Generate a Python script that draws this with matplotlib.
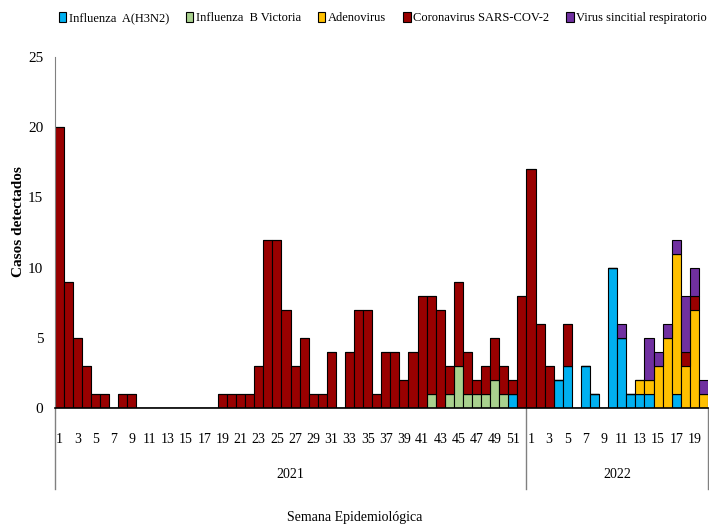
import matplotlib
matplotlib.use("Agg")
import matplotlib.pyplot as plt
import numpy as np

plt.rcParams['font.family'] = ['Liberation Serif', 'DejaVu Serif']

weeks_2021 = list(range(1, 53))
weeks_2022 = list(range(1, 21))
years = ["2021", "2022"]

series_names = ["Influenza  A(H3N2)", "Influenza  B Victoria", "Adenovirus",
                "Coronavirus SARS-COV-2", "Virus sincitial respiratorio"]
colors = ["#00B0F0", "#A9D18E", "#FFC000", "#990000", "#7030A0"]

# 2021 weeks 1-52 then 2022 weeks 1-20
flu_a = [0]*50 + [1, 0] + \
        [0, 0, 0, 2, 3, 0, 3, 1, 0, 10, 5, 1, 1, 1, 0, 0, 1, 0, 0, 0]
flu_b = [0]*41 + [1, 0, 1, 3, 1, 1, 1, 2, 1, 0, 0] + [0]*20
adeno = [0]*52 + \
        [0, 0, 0, 0, 0, 0, 0, 0, 0, 0, 0, 0, 1, 1, 3, 5, 10, 3, 7, 1]
covid = [20, 9, 5, 3, 1, 1, 0, 1, 1, 0, 0, 0, 0, 0, 0, 0, 0, 0, 1, 1,
         1, 1, 3, 12, 12, 7, 3, 5, 1, 1, 4, 0, 4, 7, 7, 1, 4, 4, 2, 4,
         8, 7, 7, 2, 6, 3, 1, 2, 3, 2, 1, 8] + \
        [17, 6, 3, 0, 3, 0, 0, 0, 0, 0, 0, 0, 0, 0, 0, 0, 0, 1, 1, 0]
rsv = [0]*52 + \
      [0, 0, 0, 0, 0, 0, 0, 0, 0, 0, 1, 0, 0, 3, 1, 1, 1, 4, 2, 1]

data = [flu_a, flu_b, adeno, covid, rsv]

fig = plt.figure(figsize=(7.09, 5.27), dpi=100)
ax = fig.add_axes([0.0769, 0.2258, 0.9217, 0.666])

n = len(weeks_2021) + len(weeks_2022)
x = np.arange(n)
bottom = np.zeros(n)
handles = []
for vals, name, c in zip(data, series_names, colors):
    v = np.array(vals, dtype=float)
    b = ax.bar(x, v, width=1.0, bottom=bottom, color=c, edgecolor="black",
               linewidth=0.8, label=name)
    handles.append(b)
    bottom += v

ax.set_xlim(-0.5, n - 0.5)
ax.set_ylim(0, 25)
ax.set_yticks(range(0, 26, 5))
ax.tick_params(axis='y', length=0, labelsize=11, pad=8)

labels = [str(w) if w % 2 == 1 else "" for w in weeks_2021] + \
         [str(w) if w % 2 == 1 else "" for w in weeks_2022]
ax.set_xticks(x)
ax.set_xticklabels(labels, fontsize=10)
ax.tick_params(axis='x', length=0, pad=18)

for s in ["top", "right"]:
    ax.spines[s].set_visible(False)
ax.spines["left"].set_color("#808080")
ax.spines["bottom"].set_color("black")
ax.spines["bottom"].set_linewidth(1.2)

# group separators
for xs in [-0.5, 51.5, n - 0.5]:
    ax.plot([xs, xs], [0, -0.23], transform=ax.get_xaxis_transform(),
            color="#808080", lw=1, clip_on=False)
ax.text(25.5, -0.19, years[0], transform=ax.get_xaxis_transform(),
        ha="center", va="center", fontsize=10)
ax.text(61.5, -0.19, years[1], transform=ax.get_xaxis_transform(),
        ha="center", va="center", fontsize=10)

fig.text(0.5, 0.018, "Semana Epidemiológica", ha="center", va="center", fontsize=10)
ax.set_ylabel("Casos detectados", fontsize=11, fontweight="bold")
ax.yaxis.set_label_coords(-0.045, 0.53)

fig.legend(handles=handles, labels=series_names, loc="upper left",
           bbox_to_anchor=(0.083, 0.978), ncol=5, frameon=False, fontsize=9,
           handlelength=0.6, handleheight=0.9, handletextpad=0.2,
           columnspacing=1.35, borderaxespad=0, borderpad=0)

fig.savefig("out.png", dpi=100)
